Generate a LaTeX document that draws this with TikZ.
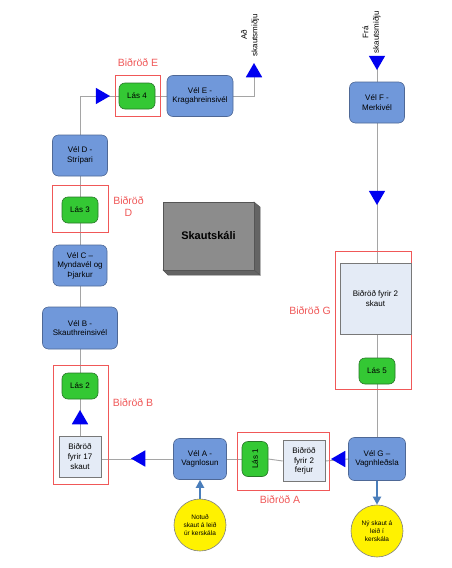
\documentclass[tikz,border=0pt]{standalone}
\usepackage{fontspec}
\setmainfont{Liberation Sans}
\usetikzlibrary{shapes.geometric,backgrounds,arrows.meta}

\definecolor{velfill}{RGB}{112,152,218}
\definecolor{veldraw}{RGB}{78,104,150}
\definecolor{lasfill}{RGB}{52,200,52}
\definecolor{lasdraw}{RGB}{40,120,40}
\definecolor{qfill}{RGB}{228,235,246}
\definecolor{qdraw}{RGB}{120,120,120}
\definecolor{zonered}{RGB}{240,88,88}
\definecolor{flowgray}{RGB}{165,165,165}
\definecolor{markblue}{RGB}{0,0,240}
\definecolor{feedblue}{RGB}{74,126,187}
\definecolor{hallfront}{RGB}{140,140,140}
\definecolor{hallside}{RGB}{100,100,100}
\definecolor{halledge}{RGB}{85,85,85}

\tikzset{
  machine/.style={draw=veldraw, fill=velfill, rounded corners=6pt, line width=0.6pt,
    align=center, inner sep=0pt, font=\fontsize{8}{9.6}\selectfont},
  lock/.style={draw=lasdraw, fill=lasfill, rounded corners=6pt, line width=0.6pt,
    inner sep=0pt, minimum width=36pt, minimum height=26pt, font=\fontsize{8}{9.6}\selectfont},
  queue/.style={draw=qdraw, fill=qfill, line width=0.6pt, align=center, inner sep=0pt,
    font=\fontsize{8}{9.6}\selectfont},
  zone/.style={draw=zonered, line width=1pt, inner sep=0pt},
  zonelabel/.style={text=zonered, align=center, inner sep=0pt, font=\fontsize{10.5}{12.5}\selectfont},
  marker/.style={regular polygon, regular polygon sides=3, fill=markblue, minimum size=19pt, inner sep=0pt},
  flowline/.style={draw=flowgray, line width=0.9pt},
  feedline/.style={draw=feedblue, line width=2pt, -{Triangle[length=8pt,width=8pt]}},
  skaut/.style={circle, draw=gray, fill=yellow, line width=0.6pt, align=center, inner sep=0pt,
    minimum size=52pt, font=\fontsize{6.5}{8}\selectfont},
  sidetext/.style={rotate=90, align=center, inner sep=0pt, font=\fontsize{8}{10.5}\selectfont}
}

\begin{document}
\begin{tikzpicture}[x=1pt,y=-1pt]
\useasboundingbox (0,0) rectangle (451,568);

% queue frames
\node[zone, minimum width=45pt, minimum height=41pt] (zoneE) at (137.5,95.5) {};
\node[zone, minimum width=56pt, minimum height=47pt] (zoneD) at (80,208.5) {};
\node[zone, minimum width=55pt, minimum height=119pt] (zoneB) at (80.5,424.5) {};
\node[zone, minimum width=92pt, minimum height=58pt] (zoneA) at (283,461) {};
\node[zone, minimum width=76pt, minimum height=138pt] (zoneG) at (373,320) {};

% frame labels
\node[zonelabel] (labE) at (138,63) {Biðröð E};
\node[zonelabel] (labD) at (128.5,206.5) {Biðröð\\D};
\node[zonelabel] (labB) at (133,403) {Biðröð B};
\node[zonelabel] (labA) at (280,500) {Biðröð A};
\node[zonelabel] (labG) at (310,311) {Biðröð G};

% machines
\node[machine, minimum width=55pt, minimum height=41pt] (velF) at (377,102.5) {Vél F -\\Merkivél};
\node[machine, minimum width=57pt, minimum height=43pt] (velG) at (377,459) {Vél G –\\Vagnhleðsla};
\node[machine, minimum width=53pt, minimum height=41pt] (velA) at (200,459) {Vél A -\\Vagnlosun};
\node[machine, minimum width=75pt, minimum height=42pt] (velB) at (80,328) {Vél B -\\Skauthreinsivél};
\node[machine, minimum width=54pt, minimum height=41pt] (velC) at (80,265.5) {Vél C –\\Myndavél og\\Þjarkur};
\node[machine, minimum width=55pt, minimum height=41pt] (velD) at (80,155.5) {Vél D -\\Strípari};
\node[machine, minimum width=66pt, minimum height=41pt] (velE) at (200,96) {Vél E -\\Kragahreinsivél};

% locks
\node[lock] (las4) at (137,96) {Lás 4};
\node[lock] (las3) at (80,210) {Lás 3};
\node[lock] (las2) at (80,386) {Lás 2};
\node[lock, minimum width=26pt, minimum height=35pt] (las1) at (255,459) {\rotatebox{90}{Lás 1}};
\node[lock] (las5) at (377,371) {Lás 5};

% buffers
\node[queue, minimum width=42pt, minimum height=41pt] (q17) at (80,456.5) {Biðröð\\fyrir 17\\skaut};
\node[queue, minimum width=42pt, minimum height=41pt] (qferjur) at (304,461) {Biðröð\\fyrir 2\\ferjur};
\node[queue, minimum width=71pt, minimum height=71pt] (qskaut) at (375.5,298.5) {Biðröð fyrir 2\\skaut};

% direction markers
\node[marker, regular polygon rotate=180] (mIn) at (377,60.5) {};
\node[marker, regular polygon rotate=180] (mF) at (377,195.5) {};
\node[marker, regular polygon rotate=90] (mG) at (340.5,459) {};
\node[marker, regular polygon rotate=90] (mA) at (140.5,458.5) {};
\node[marker] (mB) at (80,419.5) {};
\node[marker, regular polygon rotate=-90] (mD) at (100.5,96) {};
\node[marker] (mOut) at (254,72.5) {};

% supply and removal of anodes
\node[skaut] (notud) at (200,525) {Notuð\\skaut á leið\\úr kerskála};
\node[skaut] (ny) at (377,531) {Ný skaut á\\leið í\\kerskála};

% in/out labels
\node[sidetext] (tOut) at (250,35) {Að\\skautsmiðju};
\node[sidetext] (tIn) at (371.5,32) {Frá\\skautsmiðju};

% anode hall
\fill[hallside, draw=halledge, line width=0.5pt] (254,202) -- (260,207) -- (260,275) -- (254,270) -- cycle;
\fill[hallside, draw=halledge, line width=0.5pt] (163,270) -- (168,275) -- (260,275) -- (254,270) -- cycle;
\node[draw=halledge, fill=hallfront, line width=0.5pt, minimum width=91pt, minimum height=68pt,
  inner sep=0pt, font=\bfseries\fontsize{11}{13}\selectfont] (hall) at (208.5,236) {Skautskáli};

% conveyor line, kept behind the equipment
\begin{scope}[on background layer]
  \fill[white] (0,0) rectangle (451,568);
  \draw[flowline] (mIn.center) -- (velF.north);
  \draw[flowline] (velF.south) -- (velF.south |- qskaut.north);
  \draw[flowline] (velF.south |- qskaut.south) -- (las5.north);
  \draw[flowline] (las5.south) -- (velG.north);
  \draw[flowline] (velG.west) -- (qferjur.east);
  \draw[flowline] (qferjur.west) -- (las1.east);
  \draw[flowline] (las1.west) -- (velA.east);
  \draw[flowline] (velA.west) -- (velA.west -| q17.east);
  \draw[flowline] (q17.north) -- (las2.south);
  \draw[flowline] (las2.north) -- (velB.south);
  \draw[flowline] (velB.north) -- (velC.south);
  \draw[flowline] (velC.north) -- (las3.south);
  \draw[flowline] (las3.north) -- (velD.south);
  \draw[flowline] (velD.north) |- (las4.west);
  \draw[flowline] (las4.east) -- (velE.west);
  \draw[flowline] (velE.east) -| (mOut.center);
\end{scope}

\draw[feedline] (notud.north) -- (velA.south);
\draw[feedline] (velG.south) -- (ny.north);
\end{tikzpicture}
\end{document}
